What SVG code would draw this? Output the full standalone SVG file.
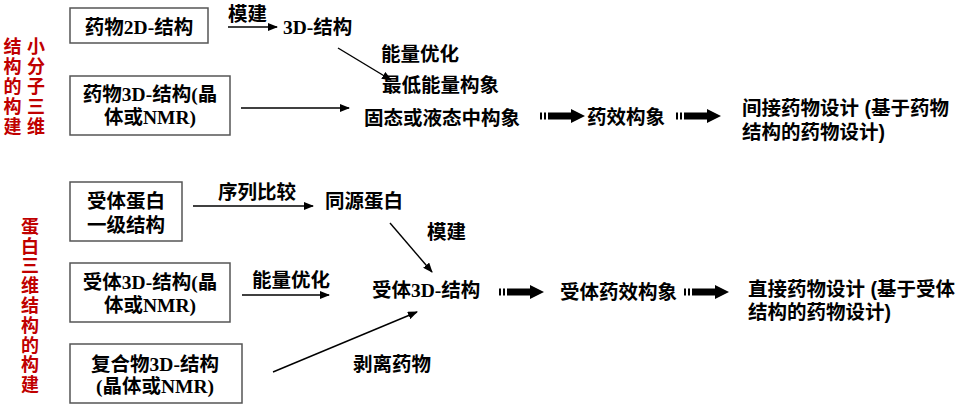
<svg xmlns="http://www.w3.org/2000/svg" width="966" height="408" viewBox="0 0 966 408">
<style>
  text{font-weight:bold;fill:#000;}
  .s{font-family:"Liberation Serif","Noto Sans CJK SC",serif;font-size:19.5px;}
  .h{font-family:"Liberation Sans","Noto Sans CJK SC",sans-serif;font-size:19.5px;}
  .r{font-family:"Noto Sans CJK SC",sans-serif;font-size:18px;fill:#C00000;writing-mode:vertical-rl;}
  .box{fill:#fff;stroke:#555;stroke-width:1.5;}
  .ln{stroke:#000;stroke-width:1.4;fill:none;marker-end:url(#ah);}
</style>
<defs>
  <marker id="ah" markerWidth="10" markerHeight="8" refX="9" refY="4" orient="auto" markerUnits="userSpaceOnUse">
    <path d="M0,0 L10,4 L0,8 z" fill="#000"/>
  </marker>
  <g id="fat">
    <rect x="0" y="-3.5" width="2" height="7" fill="#000"/>
    <rect x="4" y="-3.5" width="2" height="7" fill="#000"/>
    <rect x="8" y="-3.5" width="24" height="7" fill="#000"/>
    <path d="M31,-7 L45,0 L31,7 z" fill="#000"/>
  </g>
</defs>

<!-- red side labels -->
<g id="label-small">
  <text class="r" x="36" y="37" letter-spacing="2">小分子三维</text>
  <text class="r" x="12.5" y="37" letter-spacing="2">结构的构建</text>
</g>
<g id="label-protein">
  <text class="r" x="30" y="217" letter-spacing="1.8">蛋白三维结构的构建</text>
</g>

<!-- connectors -->
<g id="connectors">
  <line class="ln" x1="228" y1="27" x2="277" y2="27"/>
  <line class="ln" x1="338" y1="48" x2="391" y2="80"/>
  <line class="ln" x1="241" y1="108" x2="349" y2="108"/>
  <use href="#fat" x="540" y="116"/>
  <use href="#fat" x="676" y="116"/>
  <line class="ln" x1="193" y1="206" x2="313" y2="206"/>
  <line class="ln" x1="390" y1="223" x2="432" y2="272"/>
  <line class="ln" x1="242" y1="295" x2="329" y2="295"/>
  <line class="ln" x1="273" y1="372" x2="417" y2="312"/>
  <use href="#fat" x="499" y="292"/>
  <use href="#fat" x="684" y="292"/>
</g>

<!-- top section -->
<g id="n-drug2d">
  <rect class="box" x="70" y="8" width="138" height="35"/>
  <text class="s" x="139" y="34" text-anchor="middle">药物2D-结构</text>
</g>
<g id="n-model1"><text class="h" x="228" y="21">模建</text></g>
<g id="n-3d"><text class="s" x="283" y="34">3D-结构</text></g>
<g id="n-opt1"><text class="h" x="381" y="61">能量优化</text></g>
<g id="n-lowest"><text class="h" x="382" y="92">最低能量构象</text></g>
<g id="n-drug3d">
  <rect class="box" x="70" y="76" width="160" height="59"/>
  <text class="s" text-anchor="middle"><tspan x="150" y="101">药物3D-结构(晶</tspan><tspan x="150" y="124">体或NMR)</tspan></text>
</g>
<g id="n-solid"><text class="h" x="364" y="125">固态或液态中构象</text></g>
<g id="n-pharm"><text class="h" x="587" y="124">药效构象</text></g>
<g id="n-indirect">
  <text class="h"><tspan x="742" y="115">间接药物设计 (基于药物</tspan><tspan x="742" y="139">结构的药物设计)</tspan></text>
</g>

<!-- bottom section -->
<g id="n-primary">
  <rect class="box" x="70" y="182" width="112" height="59"/>
  <text class="h" text-anchor="middle"><tspan x="126" y="208">受体蛋白</tspan><tspan x="126" y="232">一级结构</tspan></text>
</g>
<g id="n-seq"><text class="h" x="218" y="199">序列比较</text></g>
<g id="n-homo"><text class="h" x="325" y="208">同源蛋白</text></g>
<g id="n-model2"><text class="h" x="427" y="239">模建</text></g>
<g id="n-rec3d">
  <rect class="box" x="70" y="263" width="160" height="59"/>
  <text class="s" text-anchor="middle"><tspan x="150" y="289">受体3D-结构(晶</tspan><tspan x="150" y="312">体或NMR)</tspan></text>
</g>
<g id="n-opt2"><text class="h" x="252" y="287">能量优化</text></g>
<g id="n-rec3d2"><text class="s" x="372" y="297">受体3D-结构</text></g>
<g id="n-complex">
  <rect class="box" x="70" y="344" width="172" height="59"/>
  <text class="s" text-anchor="middle"><tspan x="155" y="371">复合物3D-结构</tspan><tspan x="155" y="393">(晶体或NMR)</tspan></text>
</g>
<g id="n-strip"><text class="h" x="353" y="371">剥离药物</text></g>
<g id="n-recpharm"><text class="h" x="560" y="299">受体药效构象</text></g>
<g id="n-direct">
  <text class="h"><tspan x="748" y="296">直接药物设计 (基于受体</tspan><tspan x="748" y="319">结构的药物设计)</tspan></text>
</g>
</svg>
